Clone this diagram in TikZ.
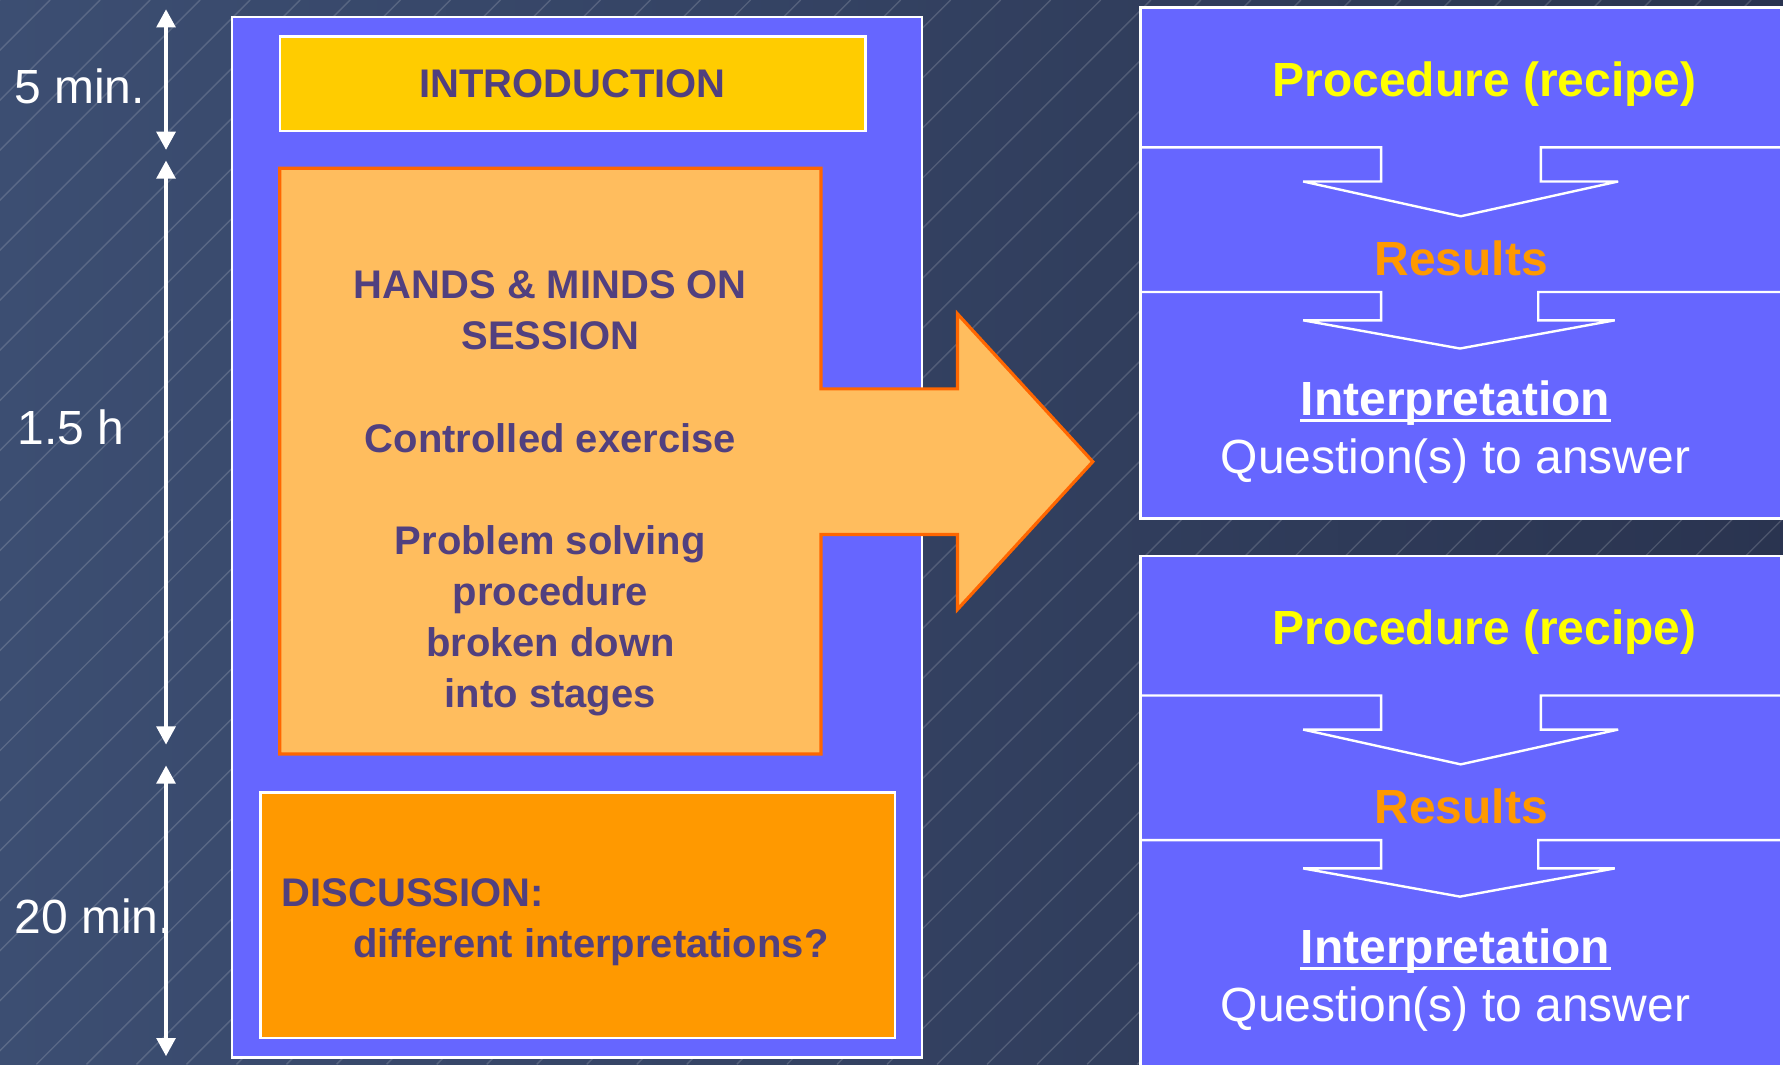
\documentclass[tikz,border=0pt]{standalone}
\usepackage{fontspec}
\setmainfont{Liberation Sans}
\usetikzlibrary{arrows.meta}

\definecolor{bgleft}{HTML}{3C4E72}
\definecolor{bgright}{HTML}{2A3450}
\definecolor{panelblue}{HTML}{6666FF}
\definecolor{introyellow}{HTML}{FFCC00}
\definecolor{handsorange}{HTML}{FFBD5E}
\definecolor{handsborder}{HTML}{FF6600}
\definecolor{discorange}{HTML}{FF9900}
\definecolor{textpurple}{HTML}{51407F}
\definecolor{recipeyellow}{HTML}{FFFF00}
\definecolor{resultorange}{HTML}{FF9900}

\begin{document}
\begin{tikzpicture}

% definitions
\tikzstyle{hatch} = [white, opacity=0.16, line width=0.35pt]

\tikzstyle{leftpanel} = [rectangle, draw=white, line width=0.6pt, fill=panelblue, inner sep=0pt]

\tikzstyle{rightpanel} = [rectangle, draw=white, line width=0.6pt, fill=panelblue, inner sep=0pt]

\tikzstyle{intro} = [rectangle, minimum width=5.15cm, minimum height=0.83cm, text centered, draw=white, line width=0.6pt, fill=introyellow, text=textpurple, font=\fontsize{10}{12.8}\selectfont\bfseries]

\tikzstyle{hands} = [fill=handsorange, draw=handsborder, line width=0.8pt]

\tikzstyle{handstext} = [align=center, inner sep=0pt, text=textpurple, font=\fontsize{10}{12.8}\selectfont\bfseries]

\tikzstyle{discussion} = [rectangle, minimum width=5.58cm, minimum height=2.16cm, draw=white, line width=0.6pt, fill=discorange]

\tikzstyle{disctext} = [align=left, anchor=west, inner sep=0pt, text=textpurple, font=\fontsize{10}{12.8}\selectfont\bfseries]

\tikzstyle{timearrow} = [white, line width=1.2pt, >={Triangle[width=4.6pt,length=4.6pt]}, <->]

\tikzstyle{timelabel} = [anchor=base west, inner sep=0pt, text=white, font=\fontsize{12}{14}\selectfont]

\tikzstyle{recipe} = [anchor=base, inner sep=0pt, text=recipeyellow, font=\fontsize{12}{14}\selectfont\bfseries]

\tikzstyle{results} = [anchor=base, inner sep=0pt, text=resultorange, font=\fontsize{12}{14}\selectfont\bfseries]

\tikzstyle{interp} = [anchor=base, inner sep=0pt, text=white, font=\fontsize{12}{14}\selectfont\bfseries]

\tikzstyle{question} = [anchor=base, inner sep=0pt, text=white, font=\fontsize{12}{14}\selectfont]

\tikzstyle{chevron} = [draw=white, line width=0.6pt, miter limit=3]

\tikzstyle{uline} = [white, line width=0.75pt]

% background
\useasboundingbox (0,0) rectangle (15.68,-9.36);
\clip (0,0) rectangle (15.68,-9.36);
\shade [left color=bgleft, right color=bgright] (0,0) rectangle (15.68,-9.36);
\foreach \x in {0,0.44,...,25.2}
  \draw [hatch] (\x,0) -- ++(-9.36,-9.36);

% time scale
\coordinate (t0) at (1.46,-0.08);
\coordinate (t1) at (1.46,-1.32);
\coordinate (t2) at (1.46,-1.41);
\coordinate (t3) at (1.46,-6.55);
\coordinate (t4) at (1.46,-6.73);
\coordinate (t5) at (1.46,-9.29);

\draw [timearrow] (t0) -- (t1);
\draw [timearrow] (t2) -- (t3);
\draw [timearrow] (t4) -- (t5);

\node (min5) [timelabel] at (0.12,-0.91) {5 min.};
\node (hour) [timelabel] at (0.15,-3.91) {1.5 h};
\node (min20) [timelabel] at (0.12,-8.21) {20 min.};

% the session
\node (session) [leftpanel, minimum width=6.07cm, minimum height=9.15cm] at (5.075,-4.725) {};

\node (intro) [intro] at (5.035,-0.735) {\raisebox{-0.3mm}{INTRODUCTION}};

\draw [hands] (2.46,-1.48) -- (7.22,-1.48) -- (7.22,-3.42) -- (8.42,-3.42) -- (8.42,-2.76)
  -- (9.61,-4.06) -- (8.42,-5.36) -- (8.42,-4.70) -- (7.22,-4.70) -- (7.22,-6.63)
  -- (2.46,-6.63) -- cycle;

\node (handson) [handstext] at (4.84,-4.34) {HANDS \& MINDS ON\\SESSION\\[12.8pt]Controlled exercise\\[12.8pt]Problem solving\\procedure\\broken down\\into stages};

\node (disc) [discussion] at (5.08,-8.05) {};

\node (disctxt) [disctext] at (2.47,-8.11) {DISCUSSION:\\\hspace*{0.63cm}different interpretations?};

% the two exercises
\node (exA) [rightpanel, minimum width=5.635cm, minimum height=4.493cm] at (12.8475,-2.3135) {};

\draw [chevron] (10.03,-1.296) -- (12.146,-1.296) -- (12.146,-1.596) -- (11.46,-1.596) -- (12.846,-1.902)
  -- (14.23,-1.596) -- (13.55,-1.596) -- (13.55,-1.296) -- (15.665,-1.296);
\draw [chevron] (10.03,-2.568) -- (12.146,-2.568) -- (12.146,-2.817) -- (11.46,-2.817) -- (12.839,-3.065)
  -- (14.20,-2.817) -- (13.527,-2.817) -- (13.527,-2.568) -- (15.665,-2.568);

\node (recipeA) [recipe] at (13.055,-0.852) {Procedure (recipe)};
\node (resultsA) [results] at (12.85,-2.42) {Results};
\node (interpA) [interp] at (12.80,-3.65) {Interpretation};
\node (questionA) [question] at (12.80,-4.16) {Question(s) to answer};
\draw [uline] ([yshift=-0.45mm]interpA.base west) -- ([yshift=-0.45mm]interpA.base east);

\node (exB) [rightpanel, minimum width=5.635cm, minimum height=4.7cm] at (12.8475,-7.24) {};

\draw [chevron] (10.03,-6.116) -- (12.146,-6.116) -- (12.146,-6.416) -- (11.46,-6.416) -- (12.846,-6.722)
  -- (14.23,-6.416) -- (13.55,-6.416) -- (13.55,-6.116) -- (15.665,-6.116);
\draw [chevron] (10.03,-7.388) -- (12.146,-7.388) -- (12.146,-7.637) -- (11.46,-7.637) -- (12.839,-7.885)
  -- (14.20,-7.637) -- (13.527,-7.637) -- (13.527,-7.388) -- (15.665,-7.388);

\node (recipeB) [recipe] at (13.055,-5.672) {Procedure (recipe)};
\node (resultsB) [results] at (12.85,-7.24) {Results};
\node (interpB) [interp] at (12.80,-8.47) {Interpretation};
\node (questionB) [question] at (12.80,-8.98) {Question(s) to answer};
\draw [uline] ([yshift=-0.45mm]interpB.base west) -- ([yshift=-0.45mm]interpB.base east);

\end{tikzpicture}
\end{document}
